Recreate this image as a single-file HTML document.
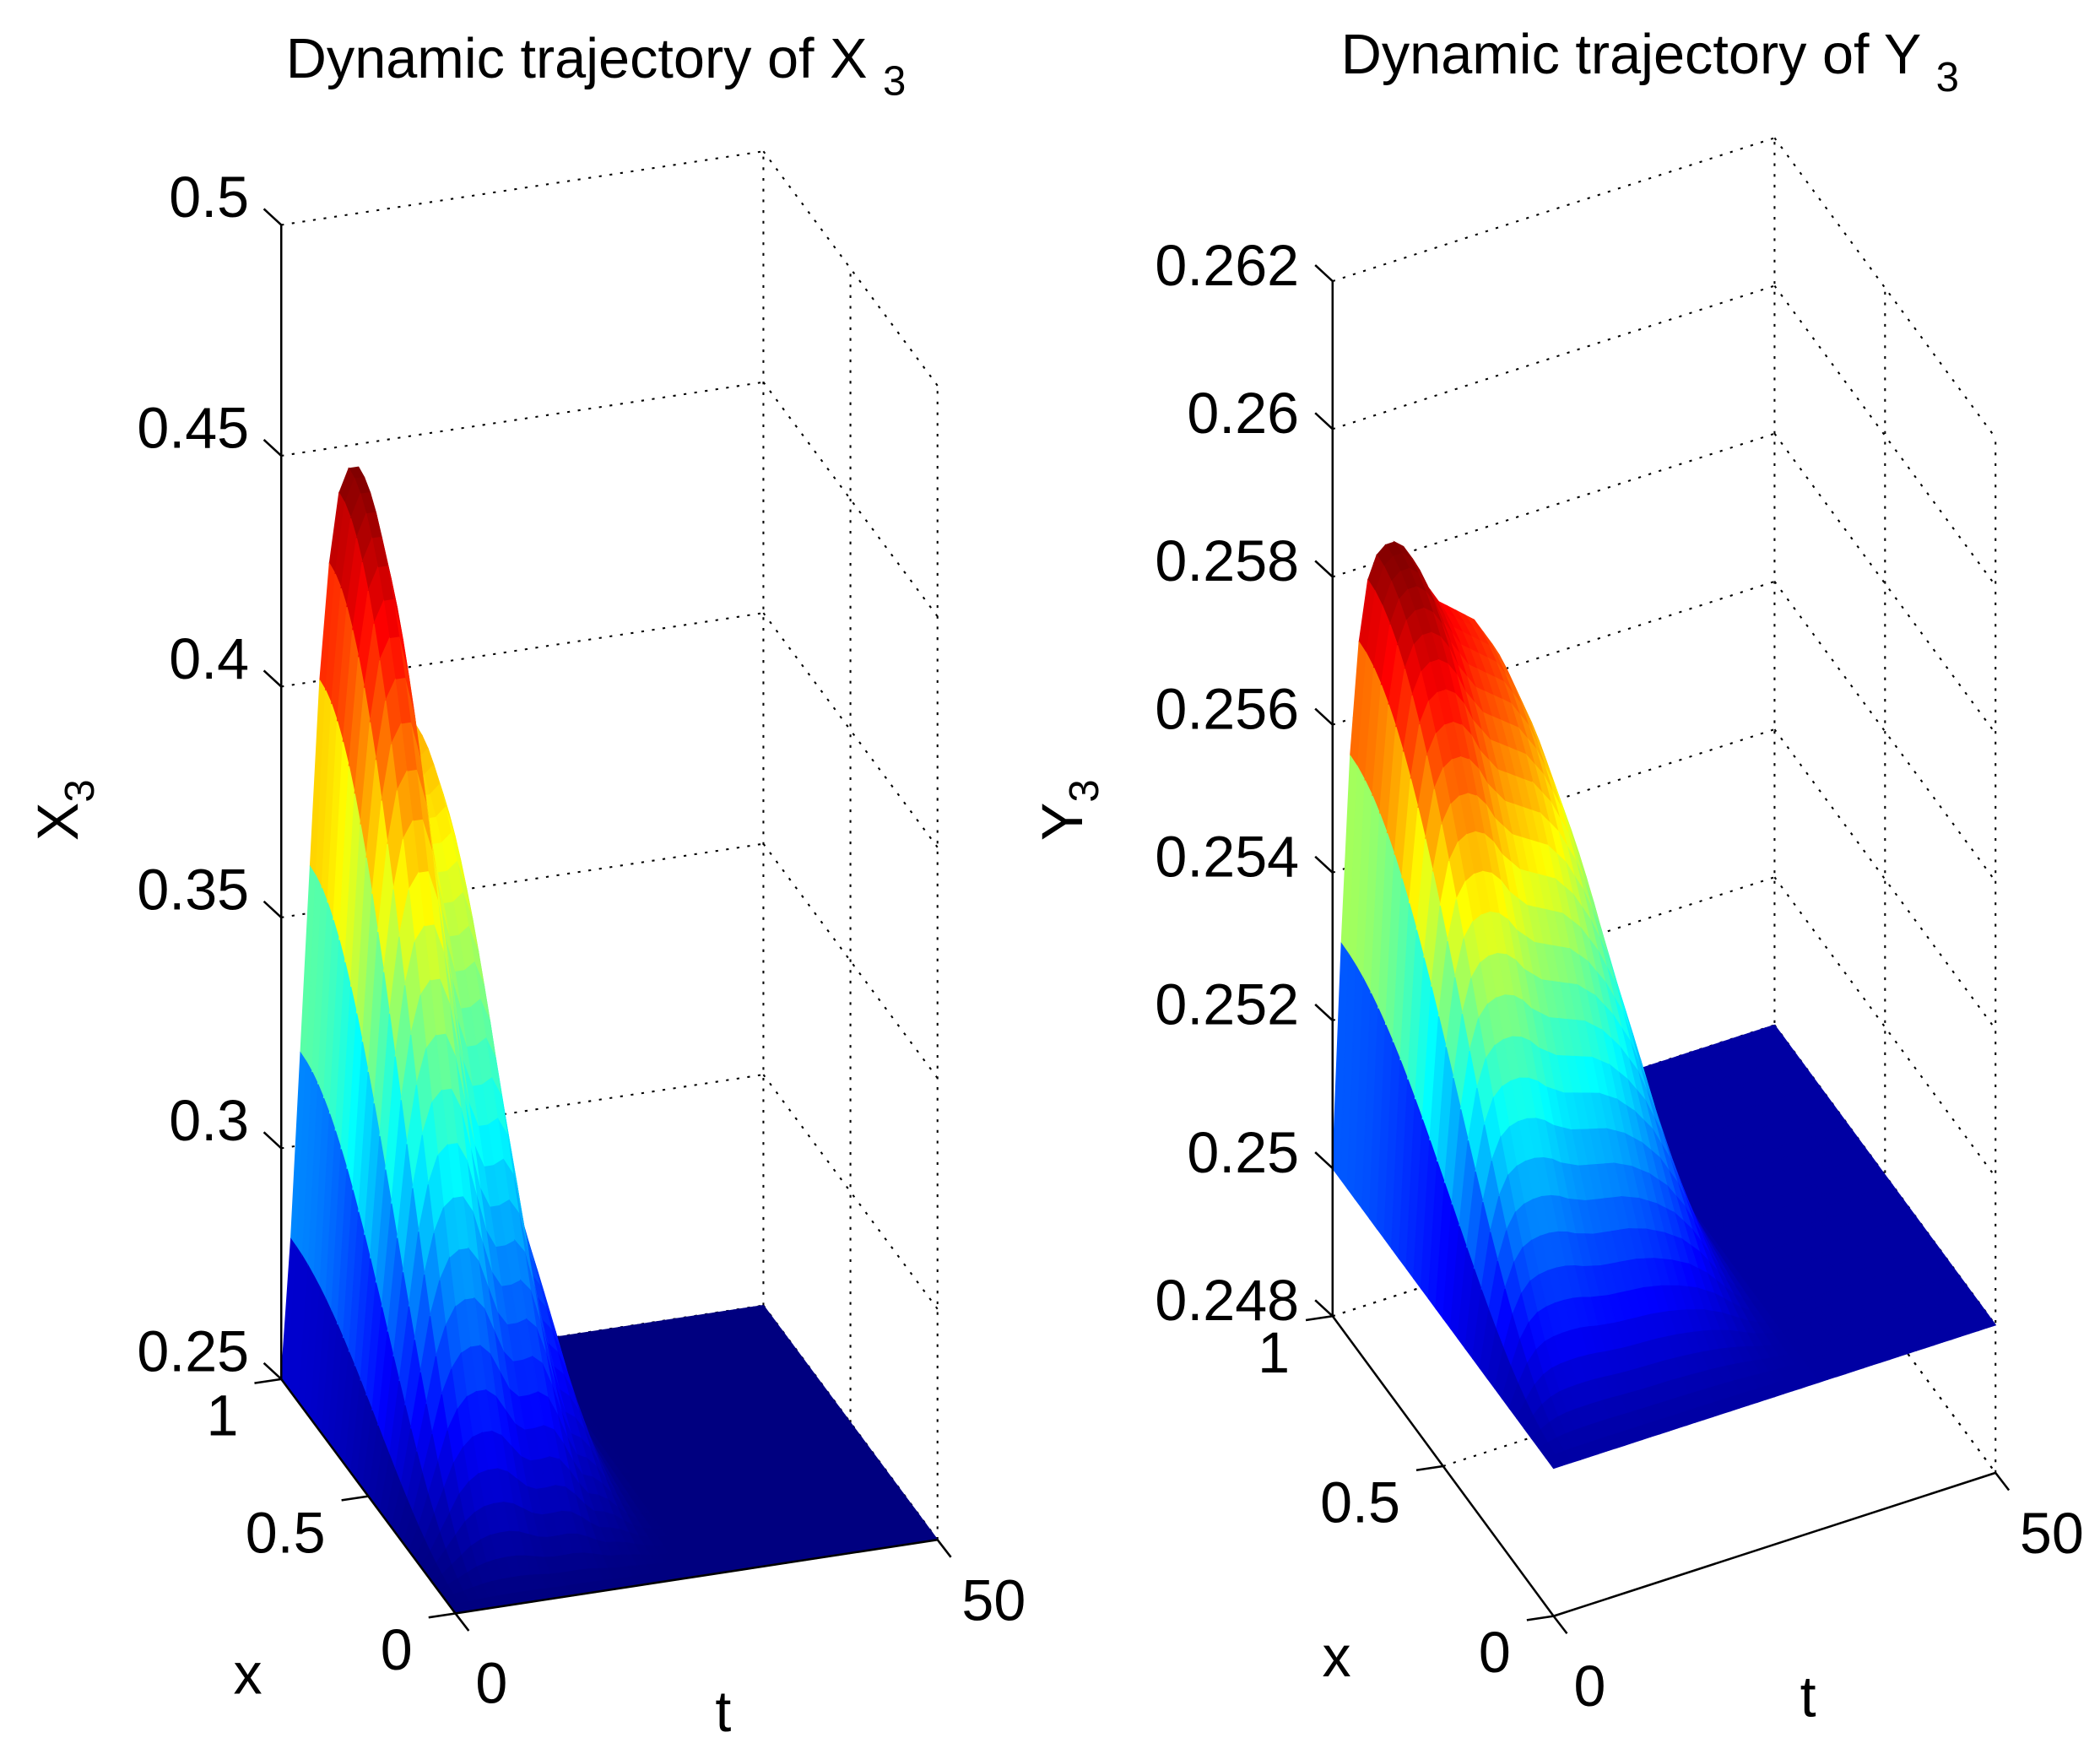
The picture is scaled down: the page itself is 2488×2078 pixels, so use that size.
<!DOCTYPE html>
<html><head><meta charset="utf-8">
<style>
html,body{margin:0;padding:0;background:#fff;}
svg{display:block;}
text{font-family:"Liberation Sans",sans-serif;fill:#000;}
</style></head>
<body>
<svg id="chart" width="2488" height="2078" viewBox="0 0 1568 1310" preserveAspectRatio="none" xmlns="http://www.w3.org/2000/svg">
<g id="left"></g>
<g id="right"></g>
</svg>
<script>
// ---- data ----
const tSamples = [0,1,2,3,4,5,6,7,8,9,10,11,12,13,14,15,16,17,18,19,20,21,22,23,24,25,26,27,28,29,30,31,32,33,34,35,36,37,38,39,40,41,42,43,44,45,46,47,48,49,50];
const x3Excess = [0,.03,.07,.11,.15,.175,.19,.195,.195,.185,.165,.145,.135,.135,.137,.13,.11,.085,.065,.06,.05,.035,.02,.01,.004,.001,0,0,0,0,0,0,0,0,0,0,0,0,0,0,0,0,0,0,0,0,0,0,0,0,0];
const y3Excess = [0,.003,.0055,.007,.0078,.0081,.0082,.0082,.0081,.0079,.0076,.0074,.0072,.0071,.007,.0069,.0068,.0066,.0064,.0061,.0058,.0054,.005,.0044,.0038,.003,.0022,.0014,.0008,.0003,0,0,0,0,0,0,0,0,0,0,0,0,0,0,0,0,0,0,0,0,0];
const x3Ticks = ["0.25","0.3","0.35","0.4","0.45","0.5"];
const y3Ticks = ["0.248","0.25","0.252","0.254","0.256","0.258","0.26","0.262"];
const xTicks = ["1","0.5","0"];
const tTicks = ["0","50"];

const NS="http://www.w3.org/2000/svg";
function mk(parent,tag,attrs,txt){const e=document.createElementNS(NS,tag);for(const k in attrs)e.setAttribute(k,attrs[k]);if(txt!==undefined)e.textContent=txt;parent.appendChild(e);return e;}
function jet(v){v=Math.max(0,Math.min(1,v));const r=Math.max(0,Math.min(1,1.5-Math.abs(4*v-3)));const g=Math.max(0,Math.min(1,1.5-Math.abs(4*v-2)));const b=Math.max(0,Math.min(1,1.5-Math.abs(4*v-1)));return `rgb(${Math.round(r*255)},${Math.round(g*255)},${Math.round(b*255)})`;}
function hx(x){const s=Math.sin(Math.PI*x/2);return s*s;}

function drawPlot(g,cfg){
  const P=(t,x,z)=>[cfg.ox+cfg.tx*t/50+cfg.xx*(1-x), cfg.oy+cfg.ty*t/50+cfg.xy*(1-x)-(z-cfg.zmin)*cfg.zs];
  const dot={stroke:"#000","stroke-width":1.3,"stroke-dasharray":"2 6",fill:"none"};
  const line=(a,b,st,name)=>{const l=mk(g,"line",Object.assign({x1:a[0],y1:a[1],x2:b[0],y2:b[1]},st));
    
    };
  cfg.ticks.forEach((lab,i)=>{const z=cfg.zmin+i*cfg.zstep;
    line(P(0,1,z),P(50,1,z),dot,'grid-back');line(P(50,1,z),P(50,0,z),dot,'grid-side');});
  [1,0.5,0].forEach(x=>{line(P(50,x,cfg.zmin),P(50,x,cfg.zmax),dot,'grid-vertical');line(P(0,x,cfg.zmin),P(50,x,cfg.zmin),dot,'grid-floor');});
  line(P(50,1,cfg.zmin),P(50,0,cfg.zmin),dot,'grid-floor');
  const nx=30, tmax=tSamples.length-1;
  const vals=cfg.data;
  const Z=(ti,xi)=>cfg.base+vals[ti]*hx(xi/nx);
  const sg=mk(g,"g",{});
  
  
  for(let xi=nx;xi>0;xi--){
    for(let ti=tmax-1;ti>=0;ti--){
      const corners=[[ti,xi],[ti+1,xi],[ti+1,xi-1],[ti,xi-1]];
      let zs=0;const pts=corners.map(([a,b])=>{const z=Z(a,b);zs+=z;const p=P(tSamples[a],b/nx,z);return p[0].toFixed(1)+","+p[1].toFixed(1);}).join(" ");
      const c=jet((zs/4-cfg.cmin)/(cfg.cmax-cfg.cmin));
      const q=mk(sg,"polygon",{points:pts,fill:c,stroke:c,"stroke-width":0.8});
      
      
    }
  }
  const ax={stroke:"#000","stroke-width":1.6};
  line(P(0,1,cfg.zmin),P(0,1,cfg.zmax),ax,'z-axis');
  line(P(0,1,cfg.zmin),P(0,0,cfg.zmin),ax,'x-axis');
  line(P(0,0,cfg.zmin),P(50,0,cfg.zmin),ax,'t-axis');
  const fs=43;
  cfg.ticks.forEach((lab,i)=>{const z=cfg.zmin+i*cfg.zstep;const p=P(0,1,z);
    line(p,[p[0]-13,p[1]-12],ax,'z-tick');
    const tx=mk(g,"text",{x:cfg.labX,y:p[1]-cfg.labDy+15,"text-anchor":"end","font-size":fs},lab);
    });
  [1,0.5,0].forEach((x,i)=>{const p=P(0,x,cfg.zmin);line(p,[p[0]-20,p[1]+3],ax,'x-tick');
    const tx=mk(g,"text",{x:p[0]-cfg.xlabOff,y:p[1]+42,"text-anchor":"end","font-size":fs},xTicks[i]);
    });
  [0,50].forEach((t,i)=>{const p=P(t,0,cfg.zmin);line(p,[p[0]+10,p[1]+13],ax,'t-tick');
    const tx=mk(g,"text",{x:p[0]+(i?42:27),y:p[1]+(i?60:67),"text-anchor":"middle","font-size":fs},tTicks[i]);
    });
  let e=mk(g,"text",{x:cfg.xLab[0],y:cfg.xLab[1],"text-anchor":"middle","font-size":fs},"x");
  
  e=mk(g,"text",{x:cfg.tLab[0],y:cfg.tLab[1],"text-anchor":"middle","font-size":fs},"t");
  
  e=mk(g,"text",{x:cfg.title[0],y:cfg.title[1],"text-anchor":"middle","font-size":42});
  
  e.appendChild(document.createTextNode("Dynamic trajectory of "+cfg.name+" "));
  mk(e,"tspan",{"font-size":31,dy:13},"3");
  e=mk(g,"text",{transform:`translate(${cfg.zLab[0]},${cfg.zLab[1]}) rotate(-90)`,"text-anchor":"middle","font-size":fs});
  
  e.appendChild(document.createTextNode(cfg.name));
  mk(e,"tspan",{"font-size":31,dy:12},"3");
}
drawPlot(document.getElementById("left"),{ox:210,oy:1030,tx:360,ty:-55,xx:130,xy:175,zmin:0.25,zmax:0.5,zstep:0.05,zs:3448,
  base:0.25,data:x3Excess,cmin:0.25,cmax:0.445,ticks:x3Ticks,labX:186,labDy:21,xlabOff:32,
  xLab:[185,1265],tLab:[540,1293],title:[445,58],zLab:[58,605],name:"X"});
drawPlot(document.getElementById("right"),{ox:995,oy:983,tx:330,ty:-107,xx:165,xy:224,zmin:0.248,zmax:0.262,zstep:0.002,zs:55214,
  base:0.25,data:y3Excess,cmin:0.2497,cmax:0.2582,ticks:y3Ticks,labX:970,labDy:12,xlabOff:32,
  xLab:[998,1252],tLab:[1350,1282],title:[1232,55],zLab:[808,605],name:"Y"});
</script>
</body></html>
